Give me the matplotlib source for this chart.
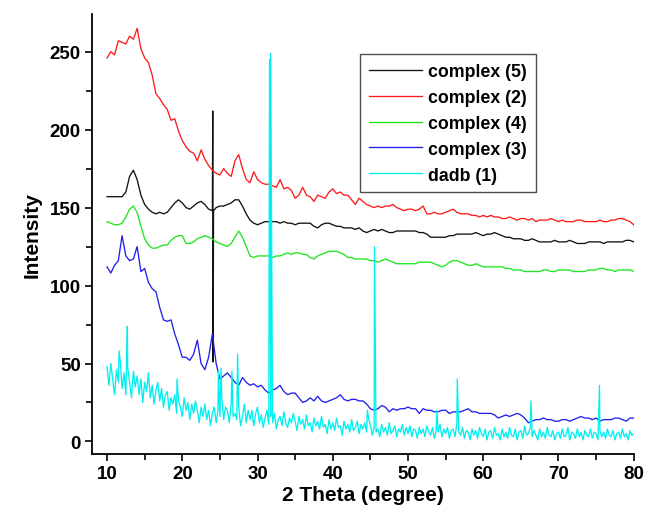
import numpy as np
import matplotlib
matplotlib.use("Agg")
import matplotlib.pyplot as plt

plt.rcParams['font.family'] = ['Liberation Sans', 'DejaVu Sans']
plt.rcParams['font.weight'] = 'bold'

# sampling grid of the smooth patterns (degrees 2-theta)
theta = np.arange(10, 80.001, 0.5)
theta_fine = np.arange(10, 80.001, 0.25)

complex5 = [157, 157, 157, 157, 157, 160, 170, 174, 168, 158,
            152, 149, 147, 146, 147, 146, 147, 150, 153, 155,
            153, 150, 149, 151, 153, 154, 152, 149, 148, 150,
            151, 151, 152, 153, 155, 155, 151, 146, 142, 140,
            139, 140, 141, 141, 141, 141, 140, 141, 140, 140,
            139, 140, 140, 140, 140, 138, 137, 139, 140, 140,
            139, 138, 138, 137, 137, 137, 136, 137, 135, 134,
            135, 136, 135, 136, 135, 134, 134, 135, 135, 135,
            135, 135, 135, 134, 134, 133, 131, 131, 131, 131,
            131, 132, 132, 133, 133, 133, 133, 133, 134, 133,
            132, 133, 133, 134, 133, 132, 131, 131, 130, 130,
            130, 129, 129, 130, 129, 128, 128, 128, 128, 129,
            128, 128, 128, 129, 128, 127, 127, 127, 128, 128,
            128, 128, 127, 128, 128, 128, 128, 128, 129, 129,
            128]
complex5_spike_x = [24.05, 24.1, 24.15]
complex5_spike_y = [212, 51, 148]

complex2 = [246, 250, 248, 257, 256, 255, 260, 258, 265, 252,
            246, 243, 235, 223, 220, 216, 213, 206, 207, 199,
            193, 189, 186, 185, 180, 187, 181, 177, 174, 172,
            171, 175, 172, 170, 180, 184, 175, 168, 166, 173,
            168, 166, 165, 165, 164, 163, 168, 162, 163, 161,
            156, 158, 163, 158, 157, 154, 158, 157, 156, 160,
            162, 159, 160, 158, 158, 155, 152, 156, 154, 152,
            151, 150, 151, 150, 151, 151, 152, 150, 149, 148,
            149, 149, 148, 149, 151, 146, 146, 147, 146, 146,
            147, 148, 149, 147, 146, 146, 146, 145, 145, 144,
            145, 144, 145, 144, 144, 143, 143, 144, 143, 142,
            143, 143, 142, 143, 141, 142, 142, 142, 143, 142,
            141, 142, 141, 141, 141, 142, 142, 141, 141, 141,
            141, 142, 141, 141, 142, 142, 143, 143, 142, 141,
            139]

complex4 = [141, 140, 139, 139, 140, 144, 149, 151, 147, 138,
            130, 126, 124, 124, 125, 126, 126, 129, 131, 132,
            132, 127, 127, 128, 130, 131, 132, 131, 130, 128,
            127, 126, 125, 127, 131, 135, 131, 125, 119, 118,
            119, 119, 119, 119, 118, 119, 119, 120, 121, 120,
            121, 121, 120, 120, 118, 117, 119, 120, 121, 122,
            122, 122, 121, 120, 118, 118, 117, 117, 117, 117,
            116, 116, 115, 116, 117, 116, 115, 114, 114, 114,
            114, 114, 114, 115, 115, 115, 115, 114, 113, 112,
            113, 115, 116, 116, 115, 114, 113, 113, 114, 113,
            112, 112, 112, 112, 112, 112, 111, 111, 110, 110,
            110, 109, 109, 109, 109, 109, 110, 110, 109, 109,
            110, 110, 110, 110, 109, 109, 109, 109, 110, 110,
            110, 111, 111, 110, 110, 109, 110, 110, 110, 110,
            109]

complex3 = [112, 108, 113, 116, 132, 119, 116, 117, 125, 109,
            111, 102, 98, 96, 86, 78, 77, 78, 69, 62,
            54, 54, 52, 56, 65, 50, 46, 54, 69, 50,
            40, 42, 44, 41, 38, 36, 41, 38, 36, 37,
            35, 36, 33, 31, 33, 34, 36, 32, 30, 31,
            31, 28, 25, 26, 28, 26, 29, 26, 25, 26,
            27, 28, 30, 27, 26, 27, 27, 26, 26, 24,
            21, 20, 21, 23, 22, 19, 21, 20, 21, 21,
            22, 21, 21, 18, 21, 20, 20, 19, 19, 20,
            20, 18, 19, 19, 19, 20, 21, 19, 19, 18,
            18, 18, 18, 17, 15, 16, 17, 16, 17, 18,
            17, 15, 12, 13, 14, 14, 15, 14, 14, 13,
            13, 14, 14, 13, 14, 15, 16, 15, 15, 14,
            15, 13, 14, 14, 14, 15, 15, 14, 13, 15,
            15]

# dadb (1): noisy background on the fine grid, 4 points per degree
dadb = [48, 36, 50, 40, 30, 46, 38, 52, 34, 44, 30, 47, 38, 28, 45, 35,
        42, 30, 40, 25, 38, 32, 44, 28, 36, 24, 33, 38, 26, 34, 22, 30,
        32, 20, 28, 24, 30, 18, 26, 22, 16, 28, 20, 25, 14, 24, 18, 26,
        20, 12, 22, 16, 24, 14, 20, 10, 18, 22, 12, 20, 16, 28, 14, 22,
        20, 12, 24, 16, 18, 14, 22, 10, 16, 24, 12, 20, 14, 20, 10, 18,
        22, 12, 17, 9, 15, 20, 11, 16, 12, 18, 8, 14, 16, 10, 19, 12,
        9, 15, 12, 18, 13, 7, 16, 11, 14, 8, 17, 10, 12, 6, 15, 10,
        13, 8, 16, 9, 11, 5, 14, 8, 12, 7, 15, 9, 10, 4, 13, 8,
        11, 6, 14, 7, 9, 13, 5, 11, 8, 12, 6, 15, 10, 4, 9, 6,
        8, 3, 11, 6, 9, 4, 12, 5, 7, 10, 3, 8, 6, 11, 4, 9,
        5, 10, 3, 8, 7, 2, 9, 5, 8, 3, 10, 6, 4, 9, 2, 7,
        6, 11, 3, 8, 5, 9, 2, 7, 8, 3, 12, 6, 4, 9, 2, 7,
        6, 1, 8, 4, 7, 2, 9, 5, 3, 8, 1, 6, 7, 2, 9, 4,
        5, 1, 8, 3, 6, 2, 9, 4, 3, 8, 1, 6, 7, 2, 10, 4,
        5, 9, 3, 7, 4, 1, 8, 3, 6, 2, 9, 4, 3, 7, 1, 5,
        6, 2, 8, 3, 4, 9, 1, 6, 5, 2, 8, 3, 6, 1, 7, 4,
        3, 8, 2, 6, 5, 1, 7, 3, 6, 2, 8, 4, 3, 7, 1, 5,
        6, 2, 8, 3, 5, 1, 7, 4, 5]
dadb_peak_x = [11.6, 12.7, 19.3, 24.8, 25.15, 26.6, 27.35, 31.6, 31.75,
               44.6, 45.55, 53.85, 56.55, 66.35, 75.45]
dadb_peak_y = [58, 74, 40, 45, 47, 45, 56, 245, 249,
               20, 125, 20, 40, 26, 36]


def with_peaks(x, y, px, py):
    xs = np.concatenate([x, px])
    ys = np.concatenate([np.asarray(y, float), np.asarray(py, float)])
    order = np.argsort(xs, kind="stable")
    return xs[order], ys[order]


fig = plt.figure(figsize=(6.46, 5.10), dpi=100)
ax = fig.add_axes([0.1424, 0.108, 0.8386, 0.862])

lw = 0.95
x5, y5 = with_peaks(theta, complex5, complex5_spike_x, complex5_spike_y)
xd, yd = with_peaks(theta_fine, dadb, dadb_peak_x, dadb_peak_y)
ax.plot(x5, y5, color='#111111', lw=lw, label='complex (5)')
ax.plot(theta, complex2, color='#ff1a1a', lw=lw, label='complex (2)')
ax.plot(theta, complex4, color='#1ee61e', lw=lw, label='complex (4)')
ax.plot(theta, complex3, color='#2020ee', lw=lw, label='complex (3)')
ax.plot(xd, yd, color='#00f0f0', lw=lw, label='dadb (1)')

ax.set_xlim(8, 80)
ax.set_ylim(-8, 274)
ax.set_xticks(np.arange(10, 81, 10))
ax.set_xticks(np.arange(15, 80, 10), minor=True)
ax.set_yticks(np.arange(0, 251, 50))
ax.set_yticks(np.arange(25, 275, 50), minor=True)

for side in ('top', 'right'):
    ax.spines[side].set_visible(False)
for side in ('left', 'bottom'):
    ax.spines[side].set_linewidth(1.3)
ax.tick_params(which='major', direction='out', length=5, width=1.2,
               labelsize=13.5, pad=3)
ax.tick_params(which='minor', direction='out', length=4, width=1.2)
for t in ax.get_xticklabels() + ax.get_yticklabels():
    t.set_fontweight('bold')

ax.set_xlabel('2 Theta (degree)', fontsize=15, fontweight='bold', labelpad=2)
ax.set_ylabel('Intensity', fontsize=15, fontweight='bold', labelpad=6)

leg = fig.legend(loc='upper left', bbox_to_anchor=(0.557, 0.892),
                 fontsize=12.8, frameon=True, fancybox=False,
                 handlelength=3.0, handletextpad=0.35, labelspacing=0.5,
                 borderpad=0.5, borderaxespad=0)
leg.get_frame().set_edgecolor('#222222')
leg.get_frame().set_linewidth(1.0)
for t in leg.get_texts():
    t.set_fontweight('bold')

fig.savefig('out.png', dpi=100)
